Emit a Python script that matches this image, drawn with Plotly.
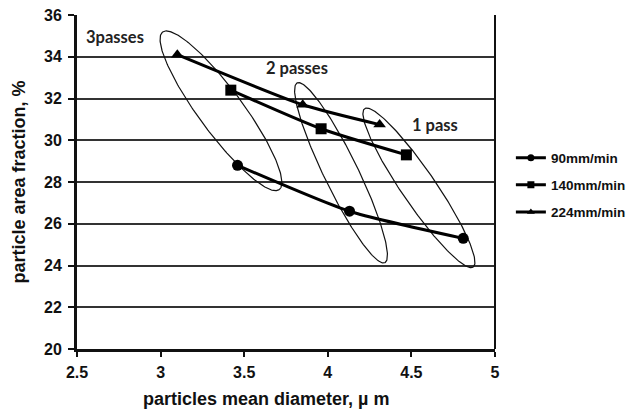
import numpy as np
import plotly.graph_objects as go

# Mean particle diameter (µm) and particle area fraction (%) per traverse speed
speed_labels = ["90mm/min", "140mm/min", "224mm/min"]
d_90 = [3.46, 4.13, 4.81]
f_90 = [28.8, 26.6, 25.3]
d_140 = [3.42, 3.96, 4.47]
f_140 = [32.4, 30.55, 29.3]
d_224 = [3.10, 3.85, 4.31]
f_224 = [34.1, 31.7, 30.75]
symbols = ["circle", "square", "triangle-up"]

# Groups of samples by number of passes: label, label position, ellipse
pass_labels = ["3passes", "2 passes", "1 pass"]
label_x = [2.727, 3.816, 4.641]
label_y = [34.95, 33.46, 30.74]
ell_cx = [3.361, 4.079, 4.545]
ell_cy = [31.41, 28.44, 27.72]
ell_a = [98, 100, 96]      # semi-major, px
ell_b = [22, 17, 17]       # semi-minor, px
ell_deg = [53.5, 64.0, 55.6]

X_RANGE = [2.5, 5.0]
Y_RANGE = [20, 36]
L, R, T, B = 77, 131, 15, 60
W, H = 626, 409
px_x = (W - L - R) / (X_RANGE[1] - X_RANGE[0])
px_y = (H - T - B) / (Y_RANGE[1] - Y_RANGE[0])

fig = go.Figure()

# pass-group ellipses drawn in screen proportions
t = np.linspace(0, 2 * np.pi, 241)
for cx, cy, a, b, deg in zip(ell_cx, ell_cy, ell_a, ell_b, ell_deg):
    th = np.radians(deg)
    u = a * np.cos(t)
    v = b * np.sin(t)
    dx = u * np.cos(th) - v * np.sin(th)
    dy = u * np.sin(th) + v * np.cos(th)
    fig.add_trace(go.Scatter(
        x=cx + dx / px_x, y=cy - dy / px_y, mode="lines",
        line=dict(color="#111111", width=1.2), showlegend=False, hoverinfo="skip"))

for name, xs, ys, sym in zip(speed_labels, [d_90, d_140, d_224],
                             [f_90, f_140, f_224], symbols):
    fig.add_trace(go.Scatter(
        x=xs, y=ys, name=name, mode="lines+markers", showlegend=False,
        line=dict(color="#000000", width=3, shape="spline", smoothing=0.6),
        marker=dict(symbol=sym, size=11, color="#000000")))
    # compact legend entry
    fig.add_trace(go.Scatter(
        x=[None], y=[None], name="<b>" + name + "</b>", mode="lines+markers",
        legendgroup=name,
        line=dict(color="#000000", width=3),
        marker=dict(symbol=sym, size=7, color="#000000")))

for txt, lx, ly in zip(pass_labels, label_x, label_y):
    fig.add_annotation(x=lx, y=ly, text="<b>" + txt + "</b>", showarrow=False,
                       font=dict(family="Lato", size=16.5, color="#222222"))

# x-axis title, set slightly left of the axis centre
fig.add_annotation(xref="paper", yref="paper", x=0.452, y=-0.15,
                   text="<b>particles mean diameter, µ m</b>", showarrow=False,
                   xanchor="center", yanchor="middle",
                   font=dict(family="Liberation Sans", size=18, color="#111111"))

fig.add_shape(type="line", xref="paper", yref="paper", x0=1, x1=1, y0=0, y1=1,
              line=dict(color="#111111", width=2))

bold = lambda s: "<b>" + s + "</b>"
xt = [2.5, 3, 3.5, 4, 4.5, 5]
yt = list(range(20, 37, 2))

fig.update_layout(
    width=W, height=H,
    margin=dict(l=L, r=R, t=T, b=B, autoexpand=False),
    paper_bgcolor="white", plot_bgcolor="white",
    font=dict(family="Liberation Sans", color="#111111"),
    legend=dict(x=1.038, y=0.491, xanchor="left", yanchor="middle",
                font=dict(family="Liberation Sans", size=13.5, color="#111111"),
                itemwidth=30, tracegroupgap=6.5, bgcolor="rgba(0,0,0,0)"),
    xaxis=dict(range=X_RANGE, tickvals=xt, ticktext=[bold(str(v)) for v in xt],
               showgrid=False, zeroline=False, showline=True, linecolor="#111111",
               linewidth=2.5, ticks="outside", ticklen=5, tickwidth=1.5, tickcolor="#111111",
               ticklabelstandoff=2, tickfont=dict(size=16)),
    yaxis=dict(range=Y_RANGE, tickvals=yt, ticktext=[bold(str(v)) for v in yt],
               showgrid=True, gridcolor="#333333", gridwidth=1.5,
               zeroline=False, showline=True, linecolor="#111111", linewidth=3,
               ticks="outside", ticklen=6, tickwidth=1.5, tickcolor="#111111",
               ticklabelstandoff=3, tickfont=dict(size=16),
               title=dict(text=bold("particle area fraction, %"), standoff=14,
                          font=dict(size=18))),
)

fig.write_html("out.html")
